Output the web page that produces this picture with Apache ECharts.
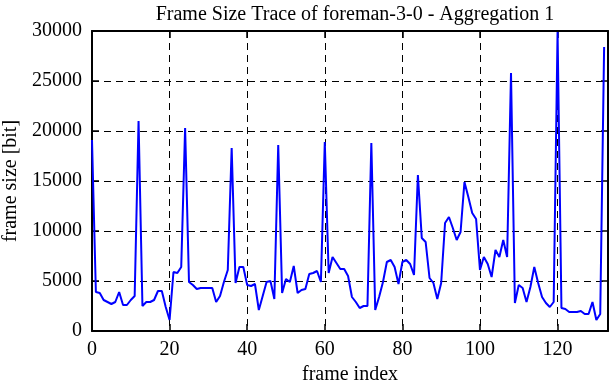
<!DOCTYPE html>
<html>
<head>
<meta charset="utf-8">
<script src="https://cdn.jsdelivr.net/npm/echarts@6/dist/echarts.min.js"></script>
<style>
html,body{margin:0;padding:0;background:#fff;}
#chart{width:612px;height:382px;}
</style>
</head>
<body>
<div id="chart"></div>
<script>
// Frame sizes [bit] for frames 0..132
var frameSizes = [
  19100, 3900, 3800, 3100, 2900, 2700, 2900, 3900, 2600, 2600, 3100, 3500,
  21000, 2500, 2900, 2900, 3100, 4000, 4000, 2400, 1100, 5900, 5800, 6400,
  20300, 4900, 4600, 4200, 4300, 4300, 4300, 4300, 2900, 3500, 4900, 6100,
  18300, 4800, 6400, 6400, 4600, 4500, 4700, 2100, 3500, 4900, 5000, 3200,
  18600, 3800, 5200, 4900, 6500, 3800, 4100, 4200, 5700, 5800, 6000, 4900,
  18900, 5800, 7400, 6800, 6200, 6200, 5500, 3400, 2900, 2300, 2500, 2500,
  18800, 2100, 3400, 4900, 6900, 7100, 6400, 4700, 6900, 7100, 6700, 5600,
  15600, 9300, 8900, 5300, 4800, 3200, 4800, 10800, 11400, 10300, 9100, 9900,
  14900, 13400, 11800, 11200, 6100, 7400, 6700, 5400, 8100, 7400, 9100, 7400,
  25800, 2800, 4600, 4300, 2900, 4400, 6400, 4800, 3400, 2800, 2400, 2900,
  29900, 2300, 2200, 1900, 1900, 1900, 2000, 1700, 1700, 2900, 1100, 1700,
  28400
];
var titleText = 'Frame Size Trace of foreman-3-0 - Aggregation 1';
var xName = 'frame index';
var yName = 'frame size [bit]';

var points = frameSizes.map(function (v, i) { return [i, v]; });

var FONT = 'Liberation Serif';
var FS = 20;
var dashed = { show: true, lineStyle: { color: '#000', width: 1, type: [7, 5] } };
var border = { show: true, onZero: false, lineStyle: { color: '#000', width: 2 } };
var tick = { show: true, inside: true, length: 7, lineStyle: { color: '#000', width: 1.5 } };

var chart = echarts.init(document.getElementById('chart'), null, { renderer: 'canvas' });
chart.setOption({
  animation: false,
  backgroundColor: '#fff',
  title: {
    text: titleText,
    left: 350,
    top: 0,
    textAlign: 'center',
    textStyle: { fontFamily: FONT, fontSize: FS, fontWeight: 'normal', color: '#000' }
  },
  grid: { left: 92, right: 4, top: 31, bottom: 51, containLabel: false, outerBoundsMode: 'none' },
  xAxis: [{
    type: 'value', min: 0, max: 133, interval: 20,
    name: xName, nameLocation: 'middle', nameGap: 30,
    nameTextStyle: { fontFamily: FONT, fontSize: FS, color: '#000' },
    axisLine: border, axisTick: tick,
    axisLabel: { fontFamily: FONT, fontSize: FS, color: '#000', margin: 9, showMaxLabel: false,
      formatter: function (v) { return v % 20 === 0 ? String(v) : ''; } },
    splitLine: dashed
  }, {
    type: 'value', min: 0, max: 133, interval: 20, position: 'top',
    axisLine: border, axisTick: tick, axisLabel: { show: false }, splitLine: { show: false }
  }],
  yAxis: [{
    type: 'value', min: 0, max: 30000, interval: 5000,
    name: yName, nameLocation: 'middle', nameGap: 71, nameRotate: 90,
    nameTextStyle: { fontFamily: FONT, fontSize: FS, color: '#000' },
    axisLine: border, axisTick: tick,
    axisLabel: { fontFamily: FONT, fontSize: FS, color: '#000', margin: 10,
      formatter: function (v) { return String(v); } },
    splitLine: dashed
  }, {
    type: 'value', min: 0, max: 30000, interval: 5000, position: 'right',
    axisLine: border, axisTick: tick, axisLabel: { show: false }, splitLine: { show: false }
  }],
  series: [{
    type: 'line',
    xAxisIndex: 0, yAxisIndex: 0,
    data: points,
    showSymbol: false,
    symbol: 'none',
    lineStyle: { color: '#0000ff', width: 2 },
    itemStyle: { color: '#0000ff' },
    z: 3
  }]
});
</script>
</body>
</html>
